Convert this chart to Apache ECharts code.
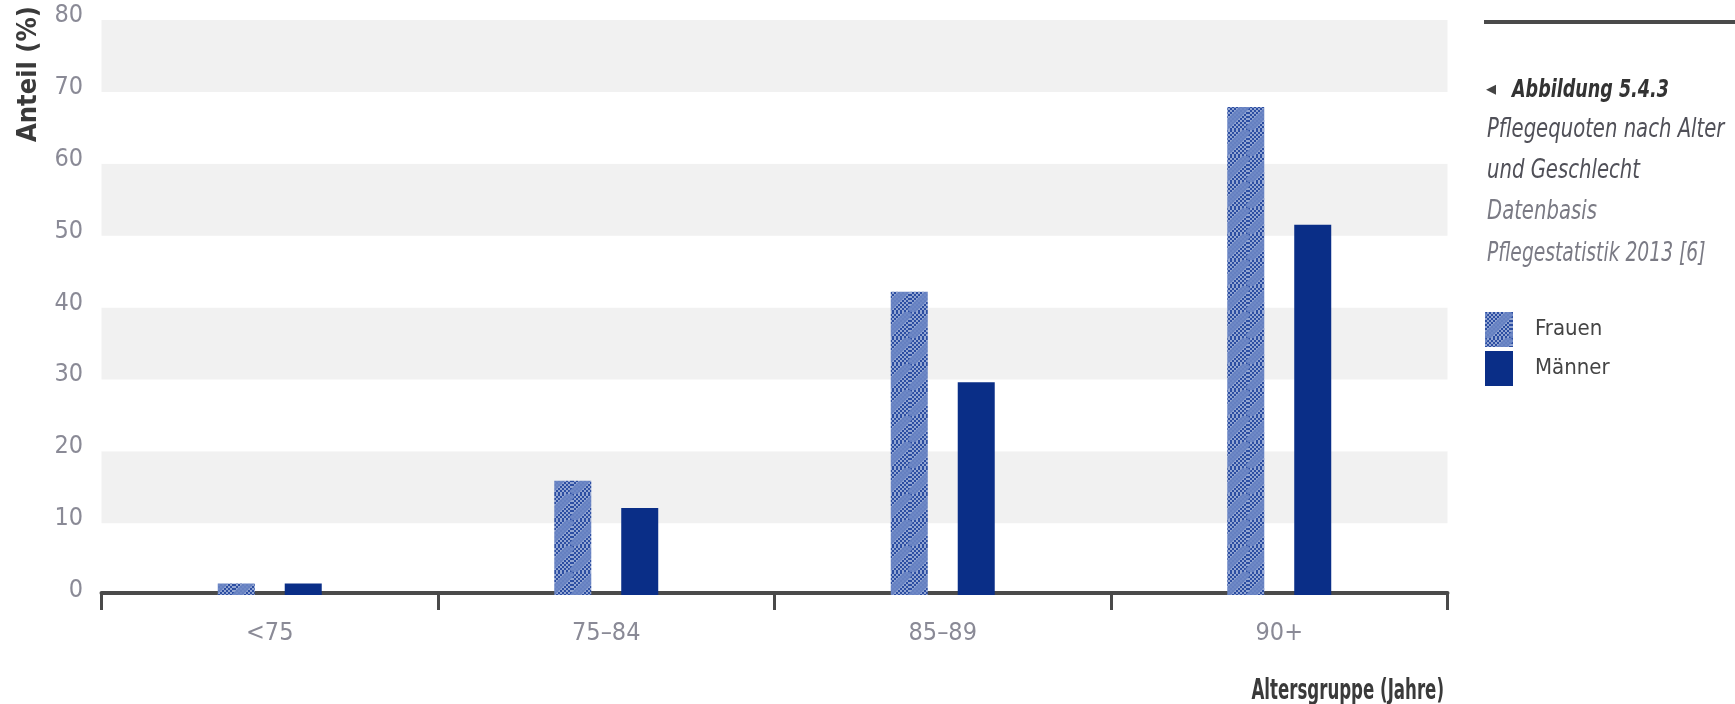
<!DOCTYPE html>
<html>
<head>
<meta charset="utf-8">
<title>Pflegequoten nach Alter und Geschlecht</title>
<script src="https://cdn.jsdelivr.net/npm/echarts@6/dist/echarts.min.js"></script>
<style>
  html, body { margin: 0; padding: 0; background: #fff; }
  #chart { width: 1735px; height: 704px; }
</style>
</head>
<body>
<div id="chart"></div>
<script>
// Pflegequoten nach Alter und Geschlecht, Pflegestatistik 2013
const categories = ["<75", "75–84", "85–89", "90+"];
const frauen = [1.6, 15.9, 42.2, 67.9];
const maenner = [1.6, 12.1, 29.6, 51.5];
const yMin = 0;
const yMax = 80;
const yStep = 10;

const FONT = "'DejaVu Sans Condensed', 'DejaVu Sans', sans-serif";

// hatched fill for "Frauen" (checkered blue with diagonal bands)
function makeHatch() {
  let c = document.createElement("canvas");
  c.width = 26;
  c.height = 26;
  let g = c.getContext("2d");
  for (let y = 0; y < 26; y += 2) {
    for (let x = 0; x < 26; x += 2) {
      g.fillStyle = ((x + y) / 2) % 2 ? "#93a6d3" : "#2c4ea2";
      g.fillRect(x, y, 2, 2);
    }
  }
  g.strokeStyle = "rgba(108,134,196,0.9)";
  g.lineWidth = 8;
  for (let k = -26; k <= 52; k += 26) {
    g.beginPath();
    g.moveTo(k, 26);
    g.lineTo(k + 26, 0);
    g.stroke();
  }
  return c;
}

// condensed texts (graphic text, squeezed horizontally)
function label(text, x, y, font, fill, sx, align, rot) {
  return {
    type: "text",
    x: x,
    y: y,
    scaleX: sx,
    rotation: rot || 0,
    style: {
      text: text,
      fill: fill,
      font: font,
      align: align || "left",
      verticalAlign: "middle",
    },
  };
}

let myChart = echarts.init(document.getElementById("chart"));

let option = {
  animation: false,
  backgroundColor: "#fff",
  grid: {
    left: 101.5,
    right: 287.5,
    top: 20,
    bottom: 109,
  },
  legend: {
    orient: "vertical",
    left: 1485,
    top: 312,
    padding: 0,
    itemWidth: 28,
    itemHeight: 35,
    itemGap: 4,
    icon: "rect",
    data: ["Frauen", "Männer"],
    textStyle: {
      color: "#444",
      fontFamily: FONT,
      fontSize: 22,
      padding: [0, 0, 0, 17],
    },
  },
  xAxis: {
    type: "category",
    data: categories,
    offset: -2,
    axisLine: {
      show: true,
      lineStyle: { color: "#4a4a4a", width: 4 },
    },
    axisTick: {
      show: true,
      alignWithLabel: false,
      length: 17,
      lineStyle: { color: "#4a4a4a", width: 3 },
    },
    axisLabel: {
      color: "#8a8a96",
      fontFamily: FONT,
      fontSize: 25,
      margin: 28,
    },
  },
  yAxis: {
    type: "value",
    min: yMin,
    max: yMax,
    interval: yStep,
    axisLine: { show: false },
    axisTick: { show: false },
    splitLine: { show: false },
    splitArea: {
      show: true,
      areaStyle: { color: ["#ffffff", "#f1f1f1"] },
    },
    axisLabel: {
      color: "#8a8a96",
      fontFamily: FONT,
      fontSize: 25,
      margin: 18.5,
      verticalAlign: "bottom",
      lineHeight: 9,
    },
  },
  graphic: [
    {
      type: "rect",
      left: 1484,
      top: 20,
      shape: { width: 251, height: 4 },
      style: { fill: "#4a4a4a" },
    },
    label("Anteil (%)", 28.5, 142, "bold 27px " + FONT, "#3a3a3a", 1, "left", Math.PI / 2),
    label("Altersgruppe (Jahre)", 1444, 692, "bold 28px " + FONT, "#3a3a3a", 0.66, "right"),
    label("◂", 1486, 90, "20px 'DejaVu Sans', sans-serif", "#444", 1),
    label("Abbildung 5.4.3", 1512, 90, "italic bold 25px " + FONT, "#333", 0.78),
    label("Pflegequoten nach Alter", 1487, 130, "italic 26px " + FONT, "#505058", 0.84),
    label("und Geschlecht", 1487, 171, "italic 26px " + FONT, "#505058", 0.84),
    label("Datenbasis", 1487, 212, "italic 26px " + FONT, "#7a7a84", 0.84),
    label("Pflegestatistik 2013 [6]", 1487, 254, "italic 26px " + FONT, "#7a7a84", 0.8),
  ],
  series: [
    {
      name: "Frauen",
      type: "bar",
      data: frauen,
      barWidth: 37,
      barGap: "81%",
      itemStyle: {
        color: { image: makeHatch(), repeat: "repeat" },
      },
    },
    {
      name: "Männer",
      type: "bar",
      data: maenner,
      barWidth: 37,
      barGap: "81%",
      itemStyle: { color: "#0a2e87" },
    },
  ],
};

myChart.setOption(option);
</script>
</body>
</html>
